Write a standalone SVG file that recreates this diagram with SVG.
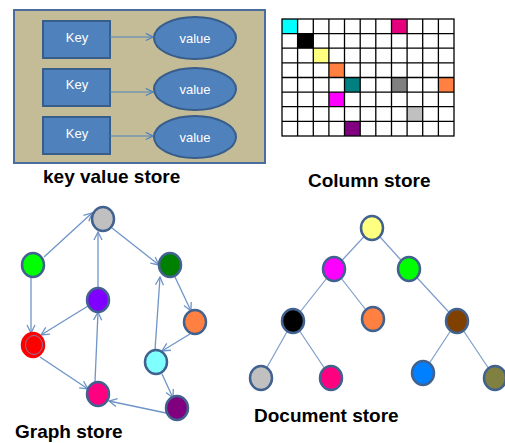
<svg xmlns="http://www.w3.org/2000/svg" width="505" height="443" viewBox="0 0 505 443">
<defs>
<style>
.lbl{font-family:"Liberation Sans",Arial,sans-serif;font-weight:bold;font-size:19px;fill:#000}
.wt{font-family:"Liberation Sans",Arial,sans-serif;font-size:13px;fill:#fff;text-anchor:middle}
.key{fill:#4F81BD;stroke:#385D8A;stroke-width:2}
.val{fill:#4F81BD;stroke:#385D8A;stroke-width:2}
.kv{stroke:#4F81BD;stroke-width:1.2;fill:none}
.ge{stroke:#6F94C8;stroke-width:1.3;fill:none}
.te{stroke:#7D9CCB;stroke-width:1.2;fill:none}
.n{stroke:#41618F;stroke-width:2.5}
</style>
<marker id="ah" viewBox="0 0 10 10" refX="9" refY="5" markerWidth="9" markerHeight="9" markerUnits="userSpaceOnUse" orient="auto">
<path d="M1,1 L9,5 L1,9" fill="none" stroke="#4F81BD" stroke-width="1.3"/>
</marker>
<marker id="ga" viewBox="0 0 10 10" refX="9" refY="5" markerWidth="10" markerHeight="10" markerUnits="userSpaceOnUse" orient="auto">
<path d="M1,1 L9,5 L1,9" fill="none" stroke="#6F94C8" stroke-width="1.3"/>
</marker>
</defs>

<!-- Key value store -->
<g id="kvstore">
<rect x="14" y="10" width="251" height="153" fill="#C4BC96" stroke="#4A6C9E" stroke-width="2"/>
<g id="key1"><rect class="key" x="43" y="21" width="67" height="37"/><text class="wt" x="77" y="42">Key</text></g>
<g id="key2"><rect class="key" x="43" y="69" width="67" height="37"/><text class="wt" x="77" y="89">Key</text></g>
<g id="key3"><rect class="key" x="43" y="117" width="67" height="37"/><text class="wt" x="77" y="138">Key</text></g>
<g id="val1"><ellipse class="val" cx="195" cy="38" rx="41" ry="21"/><text class="wt" x="195" y="43">value</text></g>
<g id="val2"><ellipse class="val" cx="195" cy="89" rx="41" ry="21"/><text class="wt" x="195" y="94">value</text></g>
<g id="val3"><ellipse class="val" cx="195" cy="137" rx="41" ry="21"/><text class="wt" x="195" y="142">value</text></g>
<g id="kvedges">
<line class="kv" x1="110" y1="37" x2="153" y2="37" marker-end="url(#ah)"/>
<line class="kv" x1="110" y1="92" x2="153" y2="92" marker-end="url(#ah)"/>
<line class="kv" x1="110" y1="136" x2="153" y2="136" marker-end="url(#ah)"/>
</g>
</g>
<text class="lbl" x="43" y="183">key value store</text>

<!-- Column store -->
<g id="colstore">
<g id="cells">
<rect x="282" y="19" width="172" height="117" fill="#fff"/>
<rect x="282" y="19" width="15.6" height="14.6" fill="#00FFFF"/>
<rect x="391.2" y="19" width="15.6" height="14.6" fill="#E6007E"/>
<rect x="297.6" y="33.6" width="15.6" height="14.6" fill="#000"/>
<rect x="313.3" y="48.2" width="15.6" height="14.6" fill="#FFFF80"/>
<rect x="328.9" y="62.9" width="15.6" height="14.6" fill="#FF8040"/>
<rect x="344.5" y="77.5" width="15.6" height="14.6" fill="#008080"/>
<rect x="391.2" y="77.5" width="15.6" height="14.6" fill="#808080"/>
<rect x="438.4" y="77.5" width="15.6" height="14.6" fill="#FF8040"/>
<rect x="328.9" y="92.1" width="15.6" height="14.6" fill="#FF00FF"/>
<rect x="406.9" y="106.7" width="15.6" height="14.6" fill="#C0C0C0"/>
<rect x="344.5" y="121.4" width="15.6" height="14.6" fill="#800080"/>
</g>
<g id="gridlines" stroke="#000" stroke-width="1.3" fill="none">
<rect x="282" y="19" width="172" height="117"/>
<path d="M297.6,19V136M313.3,19V136M328.9,19V136M344.5,19V136M360.2,19V136M375.8,19V136M391.5,19V136M407.1,19V136M422.7,19V136M438.4,19V136"/>
<path d="M282,33.6H454M282,48.2H454M282,62.9H454M282,77.5H454M282,92.1H454M282,106.7H454M282,121.4H454"/>
</g>
</g>
<text class="lbl" x="308" y="187">Column store</text>

<!-- Graph store -->
<g id="graph-edges">
<line class="ge" x1="44" y1="257" x2="92" y2="213" marker-end="url(#ga)"/>
<line class="ge" x1="112" y1="228" x2="159" y2="265" marker-end="url(#ga)"/>
<line class="ge" x1="31" y1="277" x2="31" y2="333" marker-end="url(#ga)"/>
<line class="ge" x1="88" y1="306" x2="41" y2="335" marker-end="url(#ga)"/>
<line class="ge" x1="98" y1="288" x2="98" y2="232" marker-end="url(#ga)"/>
<line class="ge" x1="95" y1="382" x2="98" y2="312" marker-end="url(#ga)"/>
<line class="ge" x1="40" y1="357" x2="88" y2="389" marker-end="url(#ga)"/>
<line class="ge" x1="175" y1="277" x2="191" y2="311" marker-end="url(#ga)"/>
<line class="ge" x1="190" y1="334" x2="162" y2="351" marker-end="url(#ga)"/>
<line class="ge" x1="155" y1="350" x2="160" y2="277" marker-end="url(#ga)"/>
<line class="ge" x1="162" y1="374" x2="173" y2="398" marker-end="url(#ga)"/>
<line class="ge" x1="166" y1="413" x2="109" y2="401" marker-end="url(#ga)"/>
</g>
<g id="g-gray"><ellipse class="n" cx="103" cy="219" rx="11" ry="12" fill="#C0C0C0"/></g>
<g id="g-green"><ellipse class="n" cx="33" cy="265" rx="11" ry="12" fill="#00FF00"/></g>
<g id="g-dkgreen"><ellipse class="n" cx="170" cy="265" rx="11" ry="12" fill="#008000"/></g>
<g id="g-violet"><ellipse class="n" cx="98" cy="300" rx="11" ry="12" fill="#8000FF"/></g>
<g id="g-orange"><ellipse class="n" cx="195" cy="322" rx="11" ry="12" fill="#FF8040"/></g>
<g id="g-red"><ellipse cx="33" cy="345" rx="11" ry="12" fill="#FF0000" stroke="#FF0000" stroke-width="2.5"/><ellipse cx="34" cy="345" rx="8.5" ry="9.5" fill="none" stroke="#6F94C8" stroke-width="0.8"/></g>
<g id="g-cyan"><ellipse class="n" cx="156" cy="362" rx="11" ry="12" fill="#80FFFF"/></g>
<g id="g-pink"><ellipse class="n" cx="98" cy="394" rx="11" ry="12" fill="#FF0080"/></g>
<g id="g-purple"><ellipse class="n" cx="177" cy="408" rx="11" ry="12" fill="#800080"/></g>
<text class="lbl" x="15" y="438">Graph store</text>

<!-- Document store -->
<g id="tree-edges">
<line class="te" x1="372" y1="228" x2="334" y2="269"/>
<line class="te" x1="372" y1="228" x2="409" y2="269"/>
<line class="te" x1="334" y1="269" x2="293" y2="321"/>
<line class="te" x1="334" y1="269" x2="373" y2="319"/>
<line class="te" x1="409" y1="269" x2="457" y2="321"/>
<line class="te" x1="293" y1="321" x2="261" y2="378"/>
<line class="te" x1="293" y1="321" x2="331" y2="378"/>
<line class="te" x1="457" y1="321" x2="423" y2="373"/>
<line class="te" x1="457" y1="321" x2="495" y2="378"/>
</g>
<g id="d-yellow"><ellipse class="n" cx="372" cy="228" rx="11" ry="12" fill="#FFFF80"/></g>
<g id="d-magenta"><ellipse class="n" cx="334" cy="269" rx="11" ry="12" fill="#FF00FF"/></g>
<g id="d-green"><ellipse class="n" cx="409" cy="269" rx="11" ry="12" fill="#00FF00"/></g>
<g id="d-black"><ellipse class="n" cx="293" cy="321" rx="11" ry="12" fill="#000"/></g>
<g id="d-orange"><ellipse class="n" cx="373" cy="319" rx="11" ry="12" fill="#FF8040"/></g>
<g id="d-brown"><ellipse class="n" cx="457" cy="321" rx="11" ry="12" fill="#804000"/></g>
<g id="d-gray"><ellipse class="n" cx="261" cy="378" rx="11" ry="12" fill="#C0C0C0"/></g>
<g id="d-pink"><ellipse class="n" cx="331" cy="378" rx="11" ry="12" fill="#FF0080"/></g>
<g id="d-blue"><ellipse class="n" cx="423" cy="373" rx="11" ry="12" fill="#0080FF"/></g>
<g id="d-olive"><ellipse class="n" cx="495" cy="378" rx="11" ry="12" fill="#808040"/></g>
<text class="lbl" x="254" y="422">Document store</text>
</svg>
